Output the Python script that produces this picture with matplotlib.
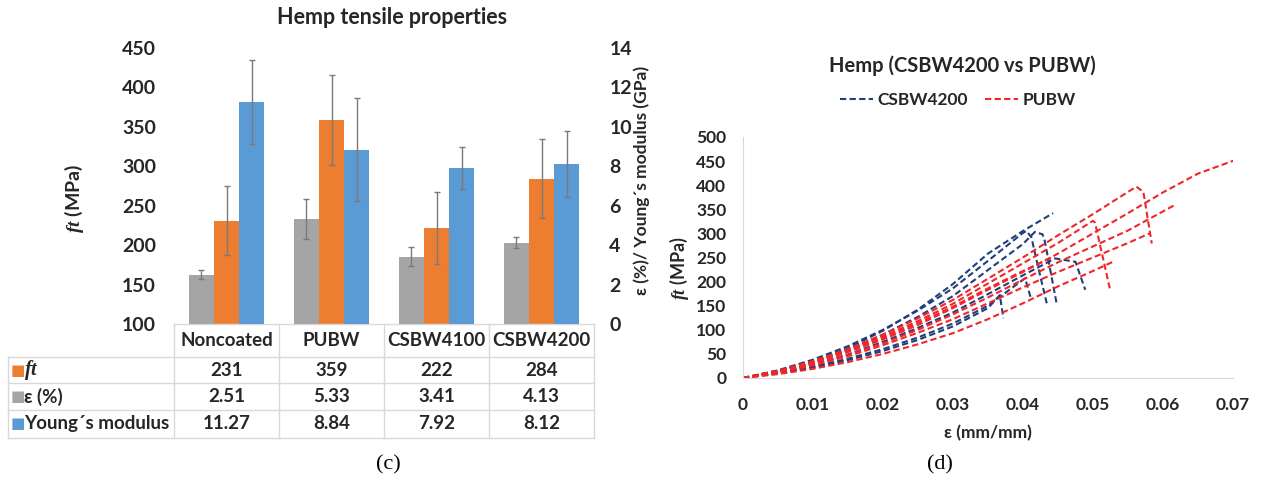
import numpy as np
import matplotlib.pyplot as plt
from matplotlib.lines import Line2D

plt.rcParams['font.family'] = ['Lato', 'DejaVu Sans']
plt.rcParams['font.weight'] = 'bold'
plt.rcParams['axes.labelweight'] = 'bold'
plt.rcParams['mathtext.fontset'] = 'custom'
plt.rcParams['mathtext.it'] = 'Liberation Serif:italic'
plt.rcParams['mathtext.rm'] = 'Liberation Serif'

TXT = '#262626'
GRID = '#d9d9d9'
C_GRAY, C_ORANGE, C_BLUE = '#a5a5a5', '#ed7d31', '#5b9bd5'
C_CSBW, C_PUBW = '#203f7a', '#f0262b'

# ---- tensile properties (bar chart + data table)
categories = ['Noncoated', 'PUBW', 'CSBW4100', 'CSBW4200']
ft = [231, 359, 222, 284]            # MPa
ft_err = [44, 57, 45.5, 50]
strain = [2.51, 5.33, 3.41, 4.13]    # %
strain_err = [0.24, 1.03, 0.49, 0.28]
modulus = [11.27, 8.84, 7.92, 8.12]  # GPa
modulus_err = [2.12, 2.6, 1.08, 1.68]
row_labels = ['$ft$', 'ε (%)', 'Young´s modulus']

# ---- stress-strain curves, (strain mm/mm, stress MPa)
csbw_curves = [
    ([0, .005, .01, .015, .02, .025, .03, .035, .040, .0443],
     [0, 15, 35, 62, 98, 142, 195, 258, 305, 342]),
    ([0, .005, .01, .015, .02, .025, .03, .035, .040, .0405, .0412, .0422, .0434],
     [0, 16, 38, 66, 100, 140, 186, 243, 301, 305, 292, 228, 155]),
    ([0, .005, .01, .015, .02, .025, .03, .035, .040, .0417, .0428, .0431, .0437, .0448],
     [0, 14, 33, 58, 90, 127, 170, 224, 278, 303, 298, 285, 240, 155]),
    ([0, .005, .01, .015, .02, .025, .03, .035, .040, .0446, .0475, .0489],
     [0, 12, 28, 49, 75, 104, 136, 174, 213, 248, 241, 183]),
    ([0, .005, .01, .015, .02, .025, .03, .035, .0403, .0412],
     [0, 10, 23, 40, 60, 84, 113, 150, 207, 162]),
    ([0, .005, .01, .015, .02, .025, .03, .035, .0367, .0372],
     [0, 10, 22, 37, 56, 79, 107, 145, 172, 124]),
]
pubw_curves = [
    ([0, .005, .01, .015, .02, .025, .03, .035, .040, .045, .050, .0562, .0572, .0584],
     [0, 15, 35, 60, 90, 124, 162, 206, 250, 296, 340, 397, 386, 279]),
    ([0, .005, .01, .015, .02, .025, .03, .035, .040, .045, .050, .0503, .0524],
     [0, 14, 33, 57, 86, 118, 154, 196, 238, 280, 326, 322, 186]),
    ([0, .005, .01, .015, .02, .025, .03, .035, .040, .045, .050, .055, .060, .065, .0703],
     [0, 13, 31, 54, 80, 110, 145, 183, 220, 258, 300, 342, 385, 424, 452]),
    ([0, .005, .01, .015, .02, .025, .03, .035, .040, .0445],
     [0, 14, 33, 56, 83, 114, 148, 186, 222, 252]),
    ([0, .005, .01, .015, .02, .025, .03, .035, .040, .045, .050, .055, .0617],
     [0, 12, 28, 48, 72, 100, 132, 167, 204, 240, 273, 306, 359]),
    ([0, .005, .01, .015, .02, .025, .03, .035, .040, .045, .050, .055, .0581],
     [0, 11, 26, 45, 68, 94, 122, 155, 188, 220, 250, 280, 300]),
    ([0, .005, .01, .015, .02, .025, .03, .035, .040, .045, .050, .053],
     [0, 8, 19, 33, 50, 70, 93, 122, 155, 190, 222, 242]),
]

fig = plt.figure(figsize=(12.62, 4.82), dpi=100)


def bold_ticks(a):
    for lbl in a.get_xticklabels() + a.get_yticklabels():
        lbl.set_fontweight('bold')


# ================= left: bars =================
ax = fig.add_axes([0.1379, 0.3278, 0.3328, 0.5726])
ax2 = ax.twinx()
x = np.arange(len(categories))
w = 0.24
ekw = dict(ecolor='#7a7a7a', elinewidth=1.0, capsize=2.5, capthick=1.0)
ax2.bar(x - w, strain, w, color=C_GRAY, yerr=strain_err, error_kw=ekw)
ax.bar(x, ft, w, color=C_ORANGE, yerr=ft_err, error_kw=ekw)
ax2.bar(x + w, modulus, w, color=C_BLUE, yerr=modulus_err, error_kw=ekw)

ax.set_xlim(-0.5, 3.5)
ax.set_ylim(100, 450)
ax2.set_ylim(0, 14)
ax.set_yticks(np.arange(100, 451, 50))
ax2.set_yticks(np.arange(0, 15, 2))
ax.set_xticks([])
for a in (ax, ax2):
    for s in a.spines.values():
        s.set_visible(False)
ax.tick_params(axis='y', length=0, pad=13, labelsize=14, labelcolor=TXT)
ax2.tick_params(axis='y', length=0, pad=11, labelsize=14, labelcolor=TXT)
bold_ticks(ax)
bold_ticks(ax2)
ax.set_ylabel('$ft$ (MPa)', fontsize=14, color=TXT)
ax.yaxis.set_label_coords(-0.21, 0.456)
ax2.set_ylabel('ε (%)/ Young´s modulus (GPa)', fontsize=12.5, color=TXT)
ax2.yaxis.set_label_coords(1.095, 0.52)
fig.text(0.3106, 0.9627, 'Hemp tensile properties', ha='center', va='center',
         fontsize=15.5, color=TXT)

# data table under the bars (axes coordinates)
tr = ax.transAxes
cols = [0, 0.25, 0.5, 0.75, 1.0]
rows = [0, -0.1196, -0.2138, -0.3116, -0.4130]
left = -0.395
lkw = dict(transform=tr, color=GRID, lw=1.0, clip_on=False)
ax.plot([0, 1], [0, 0], **lkw)
for yb in rows[1:]:
    ax.plot([left, 1], [yb, yb], **lkw)
for xc in cols:
    ax.plot([xc, xc], [0, rows[-1]], **lkw)
ax.plot([left, left], [rows[1], rows[-1]], **lkw)

for i, name in enumerate(categories):
    cx = (cols[i] + cols[i + 1]) / 2
    ax.text(cx, (rows[0] + rows[1]) / 2, name, transform=tr, ha='center',
            va='center', fontsize=13.5, color=TXT)
table_vals = [[str(v) for v in ft], [f'{v:.2f}' for v in strain],
              [f'{v:.2f}' for v in modulus]]
row_colors = [C_ORANGE, C_GRAY, C_BLUE]
for r in range(3):
    cy = (rows[r + 1] + rows[r + 2]) / 2
    ax.text(-0.388, cy, '■', transform=tr, ha='left', va='center',
            fontsize=11, color=row_colors[r], family='DejaVu Sans')
    ax.text(-0.357, cy, row_labels[r], transform=tr, ha='left', va='center',
            fontsize=14.5 if r == 0 else 13.5, color=TXT)
    for i in range(4):
        cx = (cols[i] + cols[i + 1]) / 2
        ax.text(cx, cy, table_vals[r][i], transform=tr, ha='center',
                va='center', fontsize=13.5, color=TXT)

# ================= right: stress-strain =================
bx = fig.add_axes([0.5887, 0.2158, 0.3883, 0.5])
dash = (0, (3, 1.6))
for xs, ys in csbw_curves:
    bx.plot(xs, ys, color=C_CSBW, lw=1.5, ls=dash)
for xs, ys in pubw_curves:
    bx.plot(xs, ys, color=C_PUBW, lw=1.5, ls=dash)
bx.set_xlim(0, 0.07)
bx.set_ylim(0, 500)
bx.set_xticks(np.arange(0, 0.071, 0.01))
bx.set_xticklabels(['0'] + [f'{v:.2f}' for v in np.arange(0.01, 0.071, 0.01)])
bx.set_yticks(np.arange(0, 501, 50))
for s in ('top', 'right'):
    bx.spines[s].set_visible(False)
for s in ('left', 'bottom'):
    bx.spines[s].set_color(GRID)
bx.tick_params(length=0, labelsize=12.5, labelcolor=TXT)
bx.tick_params(axis='y', pad=12)
bx.tick_params(axis='x', pad=14)
bold_ticks(bx)
bx.set_xlabel('ε (mm/mm)', fontsize=12.5, color=TXT, labelpad=8)
bx.set_ylabel('$ft$ (MPa)', fontsize=13, color=TXT)
bx.yaxis.set_label_coords(-0.105, 0.456)
fig.text(0.7623, 0.8631, 'Hemp (CSBW4200 vs PUBW)', ha='center', va='center',
         fontsize=14.5, color=TXT)
handles = [Line2D([], [], color=C_CSBW, lw=1.5, ls=dash),
           Line2D([], [], color=C_PUBW, lw=1.5, ls=dash)]
fig.legend(handles, ['CSBW4200', 'PUBW'], loc='center', ncol=2,
           bbox_to_anchor=(0.759, 0.792), frameon=False,
           prop=dict(size=12.5, weight='bold'),
           handlelength=1.9, handletextpad=0.25, columnspacing=1.0,
           labelcolor=TXT)

fig.text(0.3075, 0.035, '(c)', ha='center', va='center', fontsize=16,
         family='Liberation Serif', weight='normal')
fig.text(0.745, 0.035, '(d)', ha='center', va='center', fontsize=16,
         family='Liberation Serif', weight='normal')

fig.savefig('out.png', dpi=100)
